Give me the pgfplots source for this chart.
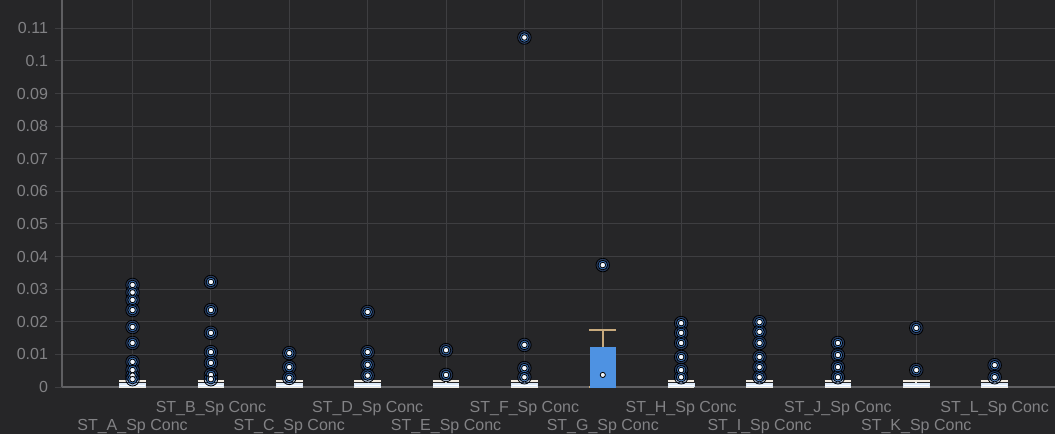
\documentclass[border=0pt]{standalone}
\usepackage{pgfplots}
\usepackage{pgfplotstable}
\pgfplotsset{compat=1.18}
\usepgfplotslibrary{statistics}
\usepackage{fontspec}
\setmainfont{Liberation Sans}

\definecolor{bg}{RGB}{38,38,40}
\definecolor{gridc}{RGB}{62,62,65}
\definecolor{axisc}{RGB}{95,95,98}
\definecolor{txt}{RGB}{130,130,133}
\definecolor{boxblue}{RGB}{78,146,226}
\definecolor{halo}{RGB}{40,95,185}
\definecolor{capc}{RGB}{200,170,125}

% outlying samples: station index, concentration
\pgfplotstableread{
pos val
0 0.0313
0 0.0290
0 0.0267
0 0.0236
0 0.0184
0 0.0135
0 0.0077
0 0.0052
0 0.0035
0 0.0024
1 0.0322
1 0.0236
1 0.0166
1 0.0107
1 0.0074
1 0.0037
1 0.0024
2 0.0104
2 0.0061
2 0.0028
3 0.0230
3 0.0107
3 0.0068
3 0.0035
4 0.0113
4 0.0037
5 0.1072
5 0.0129
5 0.0058
5 0.0030
6 0.0374
7 0.0196
7 0.0166
7 0.0135
7 0.0092
7 0.0052
7 0.0030
8 0.0199
8 0.0169
8 0.0135
8 0.0092
8 0.0061
8 0.0030
9 0.0135
9 0.0098
9 0.0061
9 0.0030
10 0.0181
10 0.0052
11 0.0067
11 0.0030
}\outliers

\pgfplotsset{
  sbox/.style={
    boxplot/draw direction=y,
    boxplot/box extend=0.32,
    boxplot/whisker extend=0.34,
    boxplot/every box/.style={draw=boxblue, fill=boxblue},
    boxplot/every whisker/.style={draw=capc, line width=0.8pt},
    boxplot/every median/.style={draw=boxblue},
  },
  tinybox/.style={
    sbox,
    boxplot/every box/.style={draw=white!80!boxblue, fill=boxblue!45!white, line width=0.8pt},
    boxplot/every whisker/.style={draw=white!75!capc, line width=0.9pt},
    boxplot/every median/.style={draw=white},
    boxplot prepared={draw position=#1, lower whisker=0, lower quartile=0.0002,
      median=0.0005, upper quartile=0.0010, upper whisker=0.0018},
  },
}

\begin{document}
\begin{tikzpicture}
\path[fill=bg, use as bounding box] (-31pt,-23.5pt) rectangle (496.5pt,193.5pt);
\begin{axis}[
  at={(0,0)}, anchor=south west,
  scale only axis, width=496.5pt, height=193.5pt,
  xmin=-0.9, xmax=11.77, ymin=0, ymax=0.1187,
  axis lines=left,
  axis line style={draw=axisc, line width=0.7pt, -},
  grid=major,
  major grid style={draw=gridc, line width=0.5pt},
  tick align=outside,
  major tick length=3.5pt,
  ytick style={draw=gridc, line width=0.5pt},
  xtick style={draw=none},
  font=\fontsize{8}{9.6}\selectfont,
  tick label style={text=txt},
  ytick={0,0.01,0.02,0.03,0.04,0.05,0.06,0.07,0.08,0.09,0.1,0.11},
  yticklabels={0,0.01,0.02,0.03,0.04,0.05,0.06,0.07,0.08,0.09,0.1,0.11},
  xtick={0,2,4,6,8,10},
  xticklabels={ST\_A\_Sp Conc,ST\_C\_Sp Conc,ST\_E\_Sp Conc,ST\_G\_Sp Conc,ST\_I\_Sp Conc,ST\_K\_Sp Conc},
  xticklabel style={yshift=-9pt},
  extra x ticks={1,3,5,7,9,11},
  extra x tick labels={ST\_B\_Sp Conc,ST\_D\_Sp Conc,ST\_F\_Sp Conc,ST\_H\_Sp Conc,ST\_J\_Sp Conc,ST\_L\_Sp Conc},
  extra x tick style={grid=major, xticklabel style={yshift=9pt}, tick style={draw=none}},
  clip=false,
]
% compact boxes hugging zero
\addplot[tinybox=0] coordinates {};
\addplot[tinybox=1] coordinates {};
\addplot[tinybox=2] coordinates {};
\addplot[tinybox=3] coordinates {};
\addplot[tinybox=4] coordinates {};
\addplot[tinybox=5] coordinates {};
\addplot[tinybox=7] coordinates {};
\addplot[tinybox=8] coordinates {};
\addplot[tinybox=9] coordinates {};
\addplot[tinybox=10] coordinates {};
\addplot[tinybox=11] coordinates {};
% the one wide distribution
\addplot[sbox, boxplot prepared={draw position=6, lower whisker=0, lower quartile=0,
  median=0.0037, upper quartile=0.0120, upper whisker=0.0175}] coordinates {};
\addplot[only marks, mark=*, mark size=1.3pt, mark options={draw=none, fill=white!90!boxblue}]
  coordinates {(6,0.0037)};

% outliers: soft blue glow, then bright core
\addplot[only marks, mark=*, mark size=3.4pt,
  mark options={draw=none, fill=halo, fill opacity=0.35}] table[x=pos, y=val] {\outliers};
\addplot[only marks, mark=*, mark size=2.4pt,
  mark options={draw=none, fill=boxblue!80!halo, fill opacity=0.8}] table[x=pos, y=val] {\outliers};
\addplot[only marks, mark=*, mark size=1.4pt,
  mark options={draw=none, fill=white!92!boxblue}] table[x=pos, y=val] {\outliers};
\end{axis}
\end{tikzpicture}
\end{document}
